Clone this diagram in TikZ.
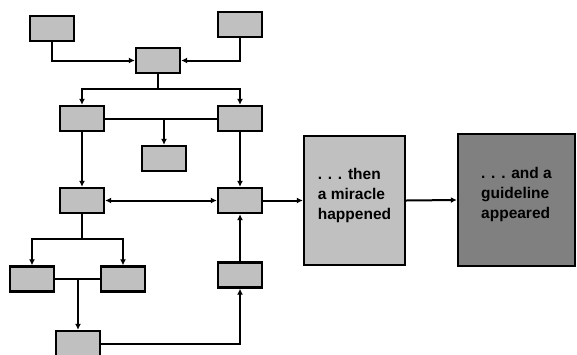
\documentclass[tikz,border=0pt]{standalone}
\usepackage{fontspec}
\setmainfont{Liberation Sans}
\usetikzlibrary{arrows.meta}
\definecolor{boxgray}{HTML}{C0C0C0}
\definecolor{guidegray}{HTML}{808080}

\begin{document}
\begin{tikzpicture}[x={(1pt,0)},y={(0,-1pt)},>={Latex[length=6pt,width=6pt]},line width=2pt,
	blk/.style={draw,line width=2.4pt,fill=boxgray,minimum width=44pt,minimum height=25pt,inner sep=0pt},
	txt/.style={align=left,text depth=14pt,font=\bfseries\fontsize{15.5}{20}\selectfont}]
\useasboundingbox (0,0) rectangle (577,354);
	% small boxes
	\node [blk] (a) at (52,28.5) {};
	\node [blk] (b) at (240,24.5) {};
	\node [blk] (c) at (158,60.5) {};
	\node [blk] (d) at (82,118.5) {};
	\node [blk] (e) at (240,118.5) {};
	\node [blk] (f) at (164,158.5) {};
	\node [blk] (g) at (82,200.5) {};
	\node [blk] (h) at (240,200.5) {};
	\node [blk] (j) at (32,279) {};
	\node [blk] (k) at (123,279) {};
	\node [blk] (l) at (78,343.5) {};
	\node [blk] (m) at (240,275) {};
	% big boxes
	\node [blk,txt,minimum width=101pt,minimum height=129pt] (miracle) at (354.5,200.5) {. . . then\\a miracle\\happened};
	\node [blk,txt,fill=guidegray,minimum width=117pt,minimum height=132pt] (guide) at (516.5,200) {. . . and a\\guideline\\appeared};
	\coordinate (csplit) at (158,89);
	\coordinate (gsplit) at (82,239);
	% connectors
	\draw [->] (a.south) |- (c.west);
	\draw [->] (b.south) |- (c.east);
	\draw (c.south) -- (csplit);
	\draw [->] (csplit) -| (d.north);
	\draw [->] (csplit) -| (e.north);
	\draw (d.east) -- (e.west);
	\draw [->] (d -| f) -- (f.north);
	\draw [->] (d.south) -- (g.north);
	\draw [->] (e.south) -- (h.north);
	\draw [<->] (g.east) -- (h.west);
	\draw [->] (h.east) -- (miracle.west);
	\draw [->] (miracle.east) -- (guide.west);
	\draw (g.south) -- (gsplit);
	\draw [->] (gsplit) -| (j.north);
	\draw [->] (gsplit) -| (k.north);
	\draw (j.east) -- (k.west);
	\draw [->] (j -| l) -- (l.north);
	\draw [->] (l.east) -| (m.south);
	\draw [->] (m.north) -- (h.south);
\end{tikzpicture}
\end{document}
